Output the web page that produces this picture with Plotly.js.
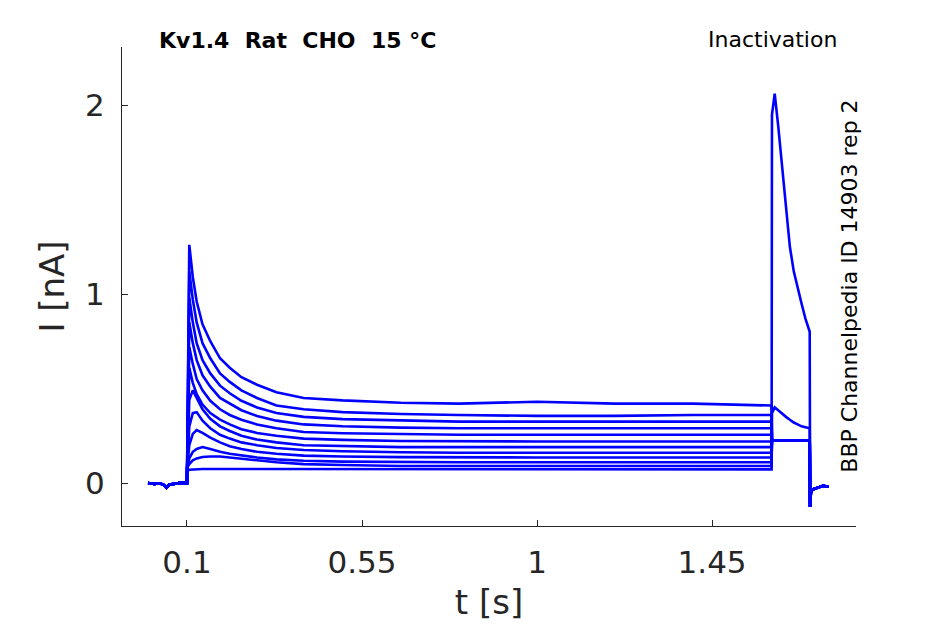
<!DOCTYPE html>
<html>
<head>
<meta charset="utf-8">
<script src="https://cdn.plot.ly/plotly-3.0.1.min.js"></script>
<style>
  html, body { margin: 0; padding: 0; background: #fff; }
  #chart { width: 945px; height: 624px; }
</style>
</head>
<body>
<div id="chart"></div>
<script>
// holding baseline before the step (s, nA)
var tBase = [0, 0.015, 0.03, 0.04, 0.047, 0.055, 0.07, 0.085, 0.1];
var iBase = [0.0, -0.005, -0.002, -0.01, -0.025, -0.008, -0.004, 0.002, 0.0];

// prepulse for each sweep
var tPulse = [0.1005, 0.106, 0.115, 0.125, 0.14, 0.16, 0.185, 0.21, 0.24, 0.28, 0.33, 0.4, 0.5, 0.65, 0.8, 1.0, 1.2, 1.4, 1.603];
var sweep1  = [0.08, 1.26, 1.09, 0.96, 0.84, 0.75, 0.66, 0.61, 0.56, 0.52, 0.48, 0.45, 0.437, 0.425, 0.42, 0.43, 0.42, 0.42, 0.41];
var sweep2  = [0.08, 1.12, 0.97, 0.85, 0.74, 0.66, 0.58, 0.535, 0.49, 0.45, 0.41, 0.39, 0.375, 0.365, 0.36, 0.355, 0.355, 0.36, 0.36];
var sweep3  = [0.08, 0.98, 0.85, 0.74, 0.65, 0.58, 0.515, 0.475, 0.435, 0.40, 0.37, 0.35, 0.338, 0.33, 0.325, 0.325, 0.325, 0.325, 0.325];
var sweep4  = [0.08, 0.85, 0.74, 0.65, 0.57, 0.51, 0.45, 0.42, 0.385, 0.355, 0.33, 0.31, 0.30, 0.293, 0.29, 0.29, 0.29, 0.29, 0.29];
var sweep5  = [0.08, 0.72, 0.63, 0.55, 0.49, 0.435, 0.39, 0.36, 0.335, 0.31, 0.29, 0.27, 0.263, 0.258, 0.255, 0.255, 0.255, 0.255, 0.255];
var sweep6  = [0.08, 0.61, 0.53, 0.47, 0.415, 0.37, 0.335, 0.31, 0.285, 0.265, 0.25, 0.235, 0.228, 0.222, 0.22, 0.22, 0.22, 0.22, 0.22];
var sweep7  = [0.08, 0.44, 0.49, 0.45, 0.39, 0.34, 0.30, 0.275, 0.25, 0.23, 0.215, 0.20, 0.195, 0.19, 0.19, 0.19, 0.19, 0.19, 0.19];
var sweep8  = [0.08, 0.30, 0.37, 0.375, 0.33, 0.29, 0.255, 0.235, 0.215, 0.20, 0.185, 0.175, 0.168, 0.163, 0.16, 0.16, 0.16, 0.16, 0.16];
var sweep9  = [0.08, 0.20, 0.26, 0.28, 0.265, 0.24, 0.215, 0.195, 0.18, 0.165, 0.155, 0.145, 0.14, 0.137, 0.135, 0.135, 0.135, 0.135, 0.135];
var sweep10 = [0.08, 0.13, 0.165, 0.18, 0.19, 0.18, 0.165, 0.155, 0.145, 0.135, 0.125, 0.118, 0.113, 0.11, 0.11, 0.11, 0.11, 0.11, 0.11];
var sweep11 = [0.08, 0.10, 0.12, 0.13, 0.138, 0.14, 0.14, 0.135, 0.13, 0.12, 0.11, 0.10, 0.095, 0.09, 0.09, 0.09, 0.09, 0.09, 0.09];
var sweep12 = [0.065, 0.07, 0.072, 0.073, 0.074, 0.074, 0.074, 0.074, 0.074, 0.074, 0.074, 0.073, 0.073, 0.072, 0.072, 0.072, 0.072, 0.072, 0.072];

// test pulse: three kinds of response
var tTest = [1.604, 1.611, 1.62, 1.63, 1.64, 1.65, 1.66, 1.67, 1.68, 1.69, 1.701];
var testSpike = [1.95, 2.06, 1.89, 1.68, 1.46, 1.25, 1.12, 1.03, 0.95, 0.87, 0.80];
var testBump  = [0.37, 0.40, 0.385, 0.365, 0.35, 0.335, 0.32, 0.31, 0.30, 0.295, 0.29];
var testFlat  = [0.225, 0.225, 0.225, 0.225, 0.225, 0.225, 0.225, 0.225, 0.225, 0.225, 0.225];

// tail after the test pulse
var tTail = [1.702, 1.704, 1.708, 1.715, 1.725, 1.735, 1.75];
var iTail = [-0.125, -0.05, -0.035, -0.03, -0.02, -0.015, -0.02];

var xTickVals = [0.1, 0.55, 1, 1.45];
var xTickText = ['0.1', '0.55', '1', '1.45'];
var yTickVals = [0, 1, 2];
var yTickText = ['0', '1', '2'];

var sweeps = [sweep1, sweep2, sweep3, sweep4, sweep5, sweep6, sweep7, sweep8, sweep9, sweep10, sweep11, sweep12];
var tests  = [testFlat, testFlat, testFlat, testFlat, testFlat, testFlat, testFlat, testFlat, testFlat, testFlat, testBump, testSpike];

var data = [];
for (var i = 0; i < sweeps.length; i++) {
    data.push({
        x: tBase.concat(tPulse, tTest, tTail),
        y: iBase.concat(sweeps[i], tests[i], iTail),
        type: 'scatter',
        mode: 'lines',
        line: {color: 'rgb(0,0,255)', width: 2.6},
        hoverinfo: 'skip'
    });
}

var axisColor = '#262626';
var layout = {
    width: 945,
    height: 624,
    margin: {l: 122, r: 89, t: 47, b: 98},
    paper_bgcolor: '#fff',
    plot_bgcolor: '#fff',
    showlegend: false,
    font: {family: 'DejaVu Sans', color: axisColor},
    xaxis: {
        range: [-0.067, 1.82],
        tickvals: xTickVals,
        ticktext: xTickText,
        ticks: 'inside',
        ticklen: 6,
        tickcolor: axisColor,
        showline: true,
        linecolor: axisColor,
        linewidth: 1,
        showgrid: false,
        zeroline: false,
        tickfont: {size: 31},
        ticklabelstandoff: 9,
        title: {text: 't [s]', font: {size: 34}, standoff: 10}
    },
    yaxis: {
        range: [-0.2275, 2.307],
        tickvals: yTickVals,
        ticktext: yTickText,
        ticks: 'inside',
        ticklen: 6,
        tickcolor: axisColor,
        showline: true,
        linecolor: axisColor,
        linewidth: 1,
        showgrid: false,
        zeroline: false,
        tickfont: {size: 31},
        ticklabelstandoff: 10,
        title: {text: 'I [nA]', font: {size: 34}, standoff: 10}
    },
    annotations: [
        {
            text: '<b>Kv1.4  Rat  CHO  15 °C</b>',
            xref: 'paper', yref: 'paper', x: 0.048, y: 1.0146,
            xanchor: 'left', yanchor: 'middle', showarrow: false,
            font: {size: 22, color: '#000'}
        },
        {
            text: 'Inactivation',
            xref: 'paper', yref: 'paper', x: 0.9765, y: 1.0167,
            xanchor: 'right', yanchor: 'middle', showarrow: false,
            font: {size: 22, color: '#000'}
        },
        {
            text: 'BBP Channelpedia ID 14903 rep 2',
            xref: 'paper', yref: 'paper', x: 0.990, y: 0.501,
            xanchor: 'center', yanchor: 'middle', showarrow: false,
            textangle: -90,
            font: {size: 22, color: '#000'}
        }
    ]
};

Plotly.newPlot('chart', data, layout, {staticPlot: true, displayModeBar: false});
</script>
</body>
</html>
